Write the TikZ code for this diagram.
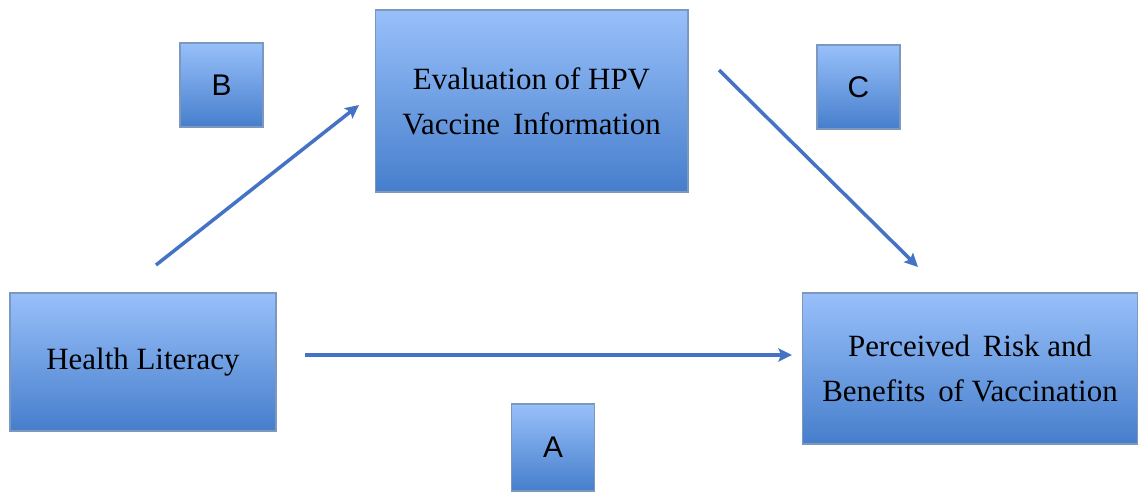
\documentclass[tikz,border=0pt]{standalone}
\usepackage{fontspec}
\setmainfont{Liberation Serif}
\setsansfont{Liberation Sans}
\usepackage{xcolor}
\usepackage{tikz}
\usetikzlibrary{shapes.geometric, arrows, arrows.meta, positioning}

\definecolor{boxtop}{RGB}{152,192,250}
\definecolor{boxmid}{RGB}{120,166,234}
\definecolor{boxbot}{RGB}{70,126,204}
\definecolor{boxline}{RGB}{125,152,190}
\definecolor{arrowblue}{RGB}{68,114,196}

\begin{document}
\begin{tikzpicture}[
    x=0.02cm, y=-0.02cm,
    concept/.style={rectangle, draw=boxline, line width=0.6pt, top color=boxtop, middle color=boxmid, bottom color=boxbot, align=center, text=black, font=\fontsize{17.6}{25.6}\selectfont},
    pathtag/.style={rectangle, draw=boxline, line width=0.6pt, top color=boxtop, middle color=boxmid, bottom color=boxbot, minimum width=1.66cm, minimum height=1.68cm, font=\sffamily\fontsize{17}{20}\selectfont},
    arrow/.style={line width=2pt, draw=arrowblue, -{Stealth[length=0.27cm, width=0.26cm, inset=0.05cm]}}
]
\useasboundingbox (0,0) rectangle (1138,491);

% Nodes
\node (literacy) [concept, minimum width=5.32cm, minimum height=2.76cm] at (143,362) {Health Literacy};
\node (evaluation) [concept, minimum width=6.26cm, minimum height=3.64cm] at (531.5,101) {Evaluation of HPV\\Vaccine\, Information};
\node (perceived) [concept, minimum width=6.72cm, minimum height=3.02cm] at (970,368.5) {Perceived\, Risk and\\Benefits\, of Vaccination};
\node (tagB) [pathtag] at (221.5,85) {B};
\node (tagC) [pathtag] at (858.5,87) {C};
\node (tagA) [pathtag, minimum height=1.74cm] at (553,447.5) {A};

% Arrow ends
\coordinate (aStart) at (305,355);
\coordinate (aEnd) at (792,355);
\coordinate (bStart) at (156,265);
\coordinate (bEnd) at (359,105);
\coordinate (cStart) at (719,70);
\coordinate (cEnd) at (918,267);

% Arrows
\draw [arrow] (aStart) -- (aEnd);
\draw [arrow] (bStart) -- (bEnd);
\draw [arrow] (cStart) -- (cEnd);

\end{tikzpicture}
\end{document}
